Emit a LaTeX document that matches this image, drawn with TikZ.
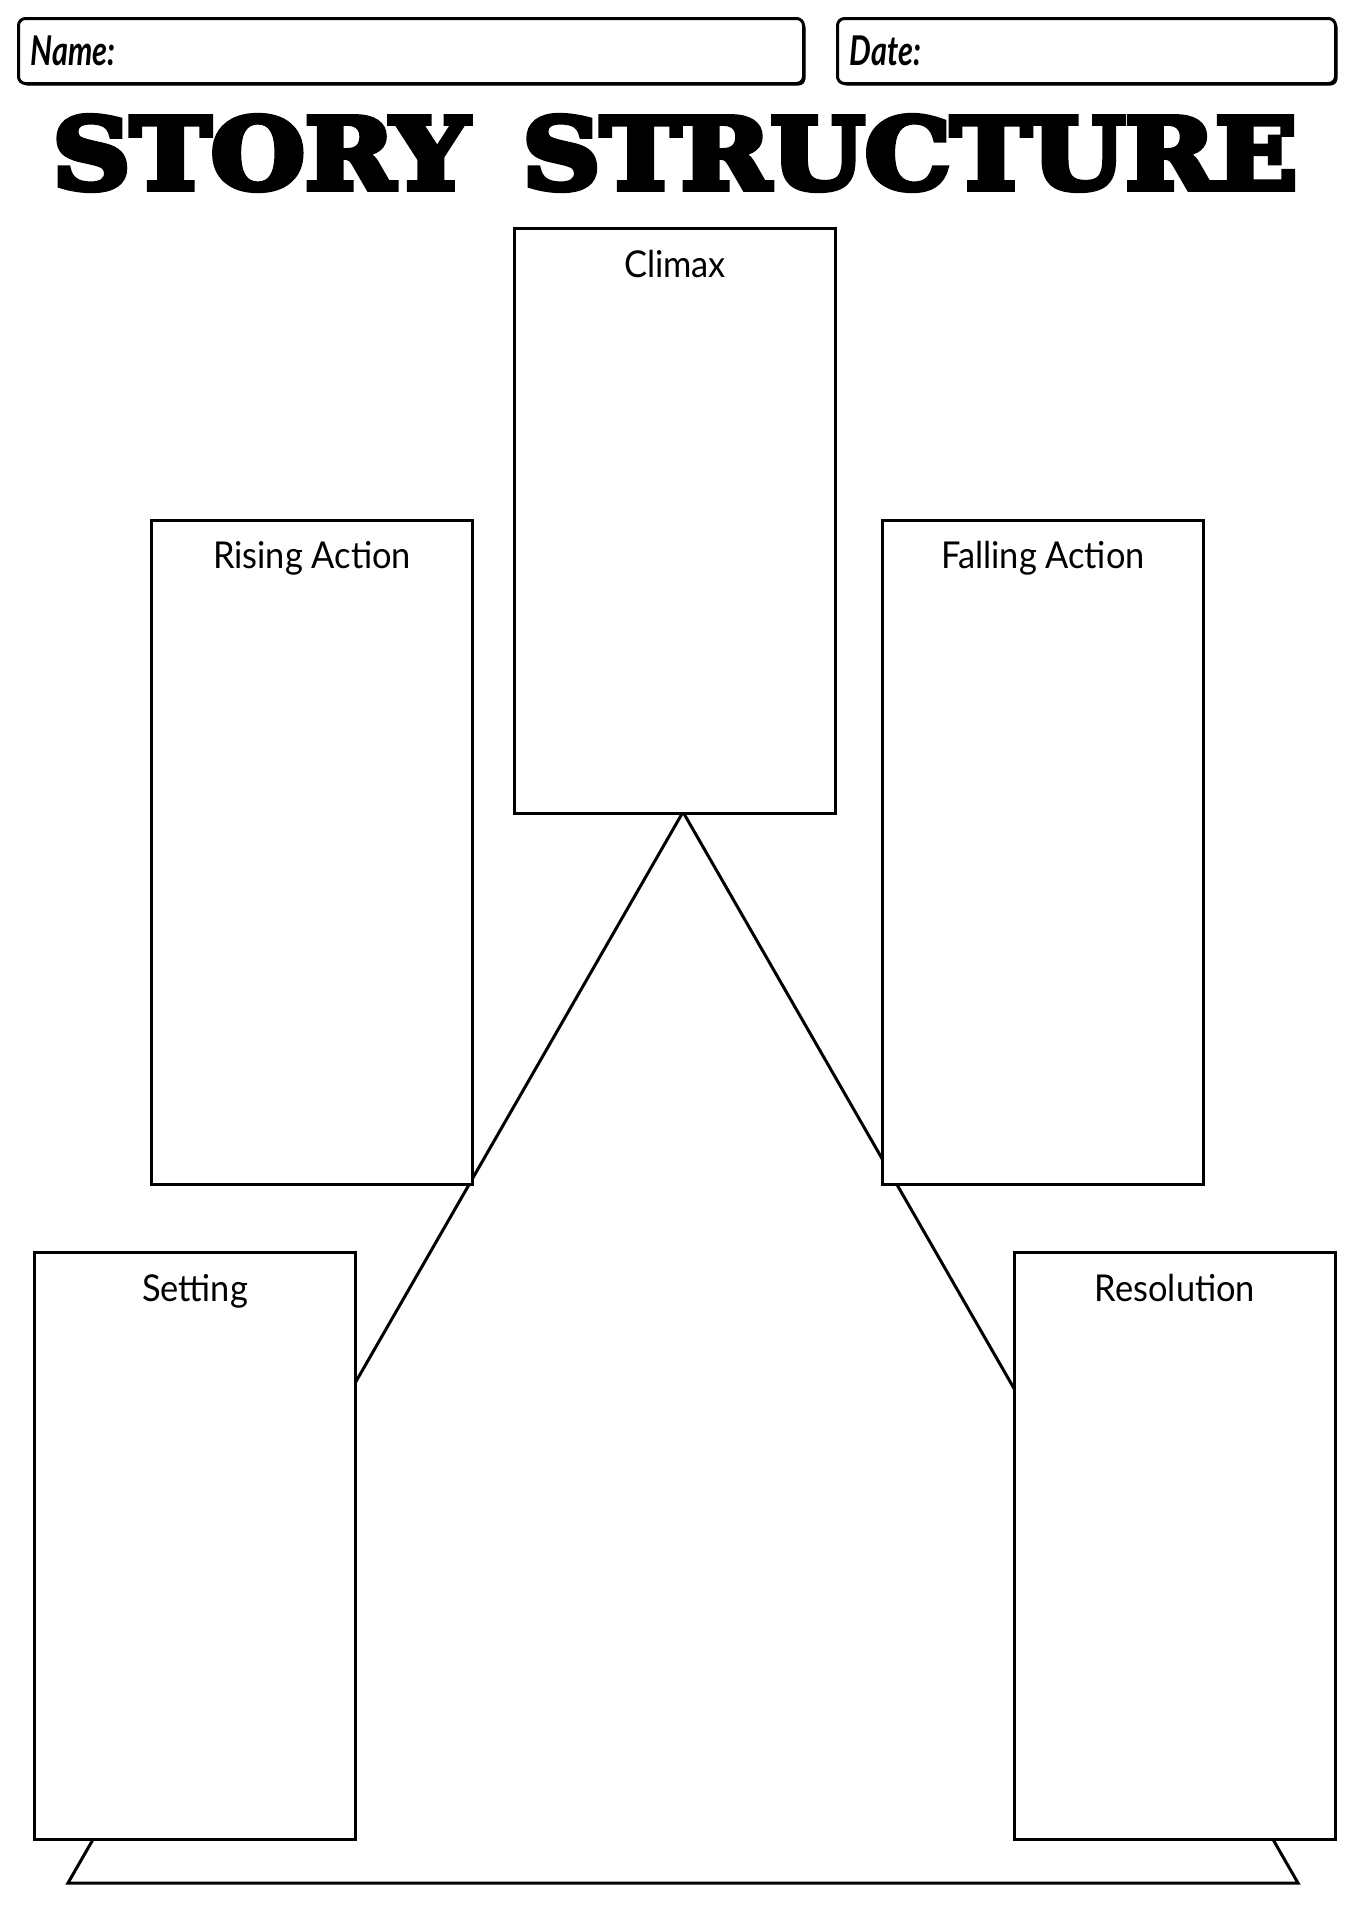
\documentclass[tikz,border=0pt]{standalone}
\usepackage{fontspec}
\usepackage{graphicx}
\usetikzlibrary{positioning, calc, shadows}
\newfontfamily\tagfont{Lato}[FakeStretch=0.93]
\newfontfamily\headfont{Lato}[FakeStretch=0.75]
\newfontfamily\titlefont{DejaVu Serif Bold}[FakeBold=6]

\begin{document}
\begin{tikzpicture}[x=1pt, y=-1pt,
    field/.style={rectangle, rounded corners=7pt, draw, line width=3pt, fill=white, minimum height=65pt, text width=#1, align=left, inner xsep=12pt, anchor=north west, font=\headfont\bfseries\itshape\fontsize{41}{41}\selectfont, drop shadow={shadow xshift=2pt, shadow yshift=-2pt, opacity=1, fill=black}},
    box/.style={rectangle, draw, line width=3pt, fill=white, minimum width=321pt, anchor=north west},
    tag/.style={anchor=base, inner sep=0pt, font=\tagfont\fontsize{37}{37}\selectfont},
    line/.style={line width=3pt, line join=miter}]
    \useasboundingbox (0,0) rectangle (1350,1920);

    % Header
    \node [field=761pt] (name) at (17,17) {Name:};
    \node [field=474pt] (date) at (836,17) {Date:};
    \node [inner sep=0pt] (title) at (675,153) {\resizebox{1245pt}{73pt}{\titlefont\fontsize{100}{100}\selectfont STORY\hspace{0.5em}STRUCTURE}};

    % Plot line
    \coordinate (peak) at (683,812);
    \coordinate (baseleft) at (68,1883);
    \coordinate (baseright) at (1298,1883);
    \draw [line] (peak) -- (baseleft) -- (baseright) -- cycle;

    % Boxes
    \node [box, minimum height=585pt] (climax) at (513,227) {};
    \node [box, minimum height=664pt] (rising) at (150,519) {};
    \node [box, minimum height=664pt] (falling) at (881,519) {};
    \node [box, minimum height=587pt] (setting) at (33,1251) {};
    \node [box, minimum height=587pt] (resolution) at (1013,1251) {};

    % Labels
    \node [tag] (climaxtag) at ($(climax.north)+(0,50)$) {Climax};
    \node [tag] (risingtag) at ($(rising.north)+(0,49)$) {Rising Action};
    \node [tag] (fallingtag) at ($(falling.north)+(0,49)$) {Falling Action};
    \node [tag] (settingtag) at ($(setting.north)+(0,50)$) {Setting};
    \node [tag] (resolutiontag) at ($(resolution.north)+(0,50)$) {Resolution};
\end{tikzpicture}
\end{document}
